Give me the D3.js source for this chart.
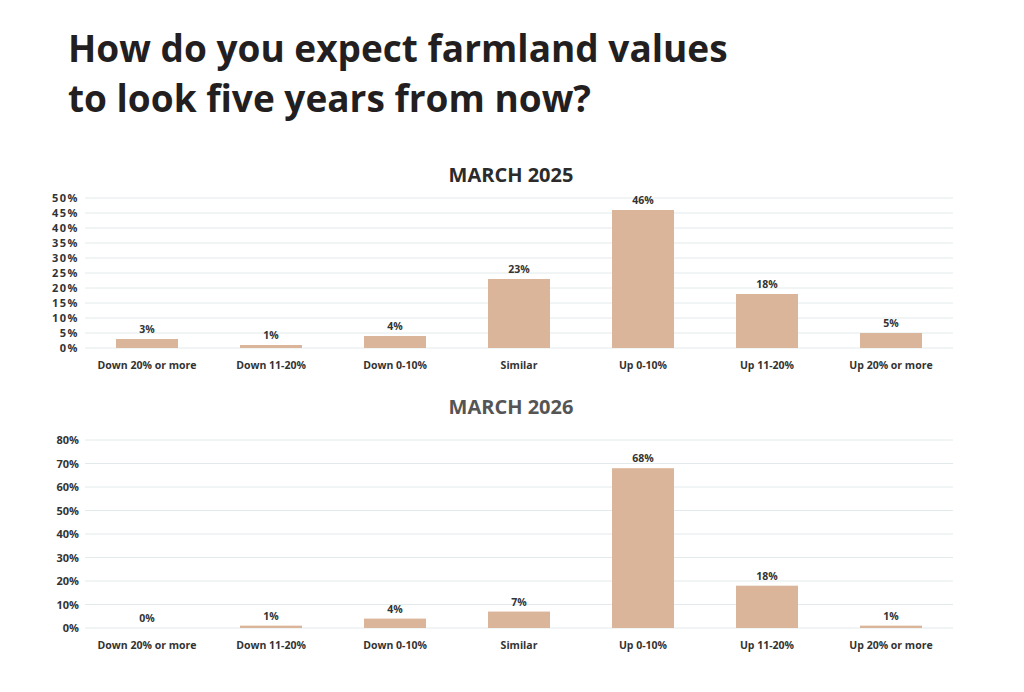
<!DOCTYPE html>
<html>
<head>
<meta charset="utf-8">
<script src="https://cdn.jsdelivr.net/npm/d3@7"></script>
<style>
  body { margin: 0; background: #fff; }
  svg { display: block; font-family: "Open Sans", Lato, sans-serif; }
</style>
</head>
<body>
<div id="chart"></div>
<script>
// data
const categories = ["Down 20% or more", "Down 11-20%", "Down 0-10%", "Similar", "Up 0-10%", "Up 11-20%", "Up 20% or more"]
const march2025 = [3, 1, 4, 23, 46, 18, 5]
const march2026 = [0, 1, 4, 7, 68, 18, 1]
const ticks2025 = [0, 5, 10, 15, 20, 25, 30, 35, 40, 45, 50]
const ticks2026 = [0, 10, 20, 30, 40, 50, 60, 70, 80]

const width = 1024, height = 692
const barColor = "#dbb59a"
const gridColor = "#e2eaec"

let svg = d3.select("#chart").append("svg")
    .attr("width", width)
    .attr("height", height)

// main title
let title = svg.append("text")
    .attr("x", 68)
    .attr("font-size", 37)
    .attr("font-weight", "bold")
    .attr("fill", "#231f20")
title.append("tspan").attr("x", 68).attr("y", 62).text("How do you expect farmland values")
title.append("tspan").attr("x", 68).attr("y", 112).text("to look five years from now?")

let x = d3.scaleBand()
    .domain(categories)
    .range([85, 953])
    .paddingInner(0.5)
    .paddingOuter(0.25)

function drawPanel(values, ticks, max, top, bottom, label, labelColor, titleY, tickSpacing) {
    let y = d3.scaleLinear().domain([0, max]).range([bottom, top])
    let g = svg.append("g")

    g.append("text")
        .attr("x", 511)
        .attr("y", titleY)
        .attr("text-anchor", "middle")
        .attr("font-size", 20)
        .attr("font-weight", "bold")
        .attr("fill", labelColor)
        .text(label)

    // grid lines
    g.append("g")
        .selectAll("line")
        .data(ticks)
        .join("line")
        .attr("x1", 85)
        .attr("x2", 953)
        .attr("y1", d => y(d))
        .attr("y2", d => y(d))
        .attr("stroke", gridColor)
        .attr("stroke-width", 1)

    // y axis labels
    let yAxis = d3.axisLeft(y).tickValues(ticks).tickSize(0).tickPadding(0).tickFormat(d => d + "%")
    g.append("g")
        .attr("transform", "translate(79,0)")
        .call(yAxis)
        .call(a => a.select(".domain").remove())
        .call(a => a.selectAll("text")
            .attr("font-family", "'Open Sans', sans-serif")
            .attr("font-size", 11)
            .attr("letter-spacing", tickSpacing)
            .attr("font-weight", "bold")
            .attr("fill", "#333"))

    // bars
    g.append("g")
        .selectAll("rect")
        .data(values)
        .join("rect")
        .attr("x", (d, i) => x(categories[i]))
        .attr("width", x.bandwidth())
        .attr("y", d => y(d))
        .attr("height", d => bottom - y(d))
        .attr("fill", barColor)

    // value labels
    g.append("g")
        .selectAll("text")
        .data(values)
        .join("text")
        .attr("x", (d, i) => x(categories[i]) + x.bandwidth() / 2)
        .attr("y", d => y(d) - 6)
        .attr("text-anchor", "middle")
        .attr("font-size", 10.5)
        .attr("font-weight", "bold")
        .attr("fill", "#333")
        .text(d => d + "%")

    // category labels
    let xAxis = d3.axisBottom(x).tickSize(0).tickPadding(0)
    g.append("g")
        .attr("transform", `translate(0,${bottom + 21})`)
        .call(xAxis)
        .call(a => a.select(".domain").remove())
        .call(a => a.selectAll("text")
            .attr("dy", 0)
            .attr("font-family", "'Open Sans', sans-serif")
            .attr("font-size", 10.5)
            .attr("font-weight", "bold")
            .attr("fill", "#333"))
}

drawPanel(march2025, ticks2025, 50, 198, 348, "MARCH 2025", "#2b2b2b", 182, 1.5)
drawPanel(march2026, ticks2026, 80, 440, 628, "MARCH 2026", "#555", 414, 0)
</script>
</body>
</html>
